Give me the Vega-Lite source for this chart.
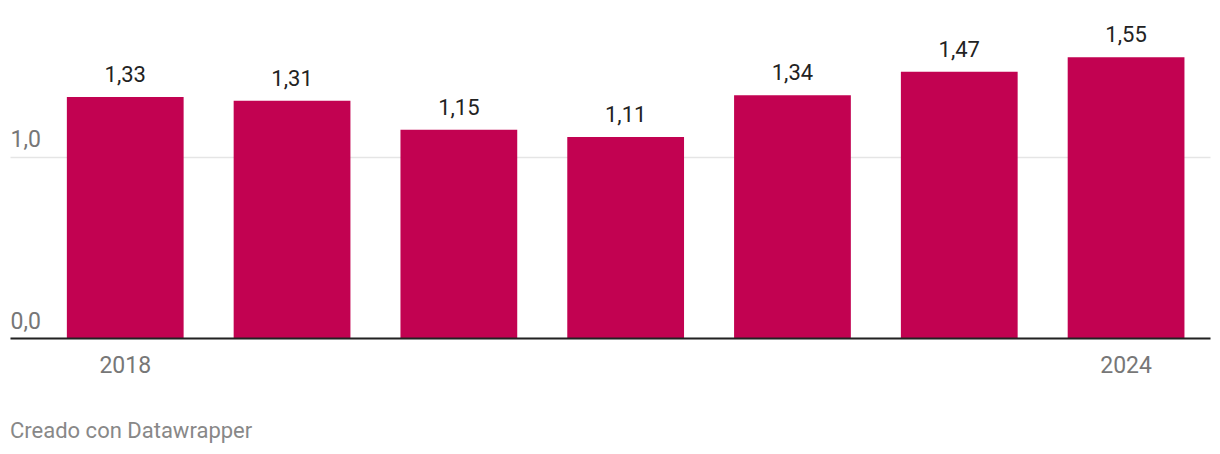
{
  "$schema": "https://vega.github.io/schema/vega-lite/v6.json",
  "width": 1200,
  "height": 326,
  "autosize": {"type": "none"},
  "padding": {"left": 10, "right": 10, "top": 12, "bottom": 116},
  "background": "white",
  "config": {
    "view": {"stroke": null},
    "font": "Roboto"
  },
  "title": {
    "text": "Creado con Datawrapper",
    "orient": "bottom",
    "anchor": "start",
    "font": "Roboto",
    "fontSize": 22,
    "fontWeight": "normal",
    "color": "#888888",
    "offset": 44
  },
  "data": {
    "values": [
      {"year": "2018", "value": 1.33, "label": "1,33"},
      {"year": "2019", "value": 1.31, "label": "1,31"},
      {"year": "2020", "value": 1.15, "label": "1,15"},
      {"year": "2021", "value": 1.11, "label": "1,11"},
      {"year": "2022", "value": 1.34, "label": "1,34"},
      {"year": "2023", "value": 1.47, "label": "1,47"},
      {"year": "2024", "value": 1.55, "label": "1,55"}
    ]
  },
  "encoding": {
    "x": {
      "field": "year",
      "type": "ordinal",
      "scale": {"paddingInner": 0.3, "paddingOuter": 0.247, "align": 0.69},
      "axis": {
        "title": null,
        "values": ["2018", "2024"],
        "labelAngle": 0,
        "ticks": false,
        "tickSize": 0,
        "labelPadding": 34,
        "labelBaseline": "alphabetic",
        "labelFont": "Roboto",
        "labelFontSize": 23,
        "labelColor": "#777777",
        "domainColor": "#222222",
        "domainWidth": 2,
        "grid": false,
        "zindex": 2
      }
    },
    "y": {
      "field": "value",
      "type": "quantitative",
      "scale": {"domain": [0, 1.8]},
      "axis": {
        "title": null,
        "values": [0, 1],
        "labelExpr": "replace(format(datum.value, '.1f'), '.', ',')",
        "domain": false,
        "ticks": false,
        "tickSize": 0,
        "labelPadding": 0,
        "labelAlign": "left",
        "labelBaseline": "alphabetic",
        "labelOffset": -10,
        "labelFont": "Roboto",
        "labelFontSize": 23,
        "labelColor": "#777777",
        "grid": true,
        "gridColor": "#e5e5e5",
        "gridWidth": 1.5
      }
    }
  },
  "layer": [
    {"mark": {"type": "bar", "color": "#c20251"}},
    {
      "mark": {"type": "text", "baseline": "alphabetic", "dy": -15, "fontSize": 22, "font": "Roboto", "color": "#222222"},
      "encoding": {"text": {"field": "label"}}
    }
  ]
}
